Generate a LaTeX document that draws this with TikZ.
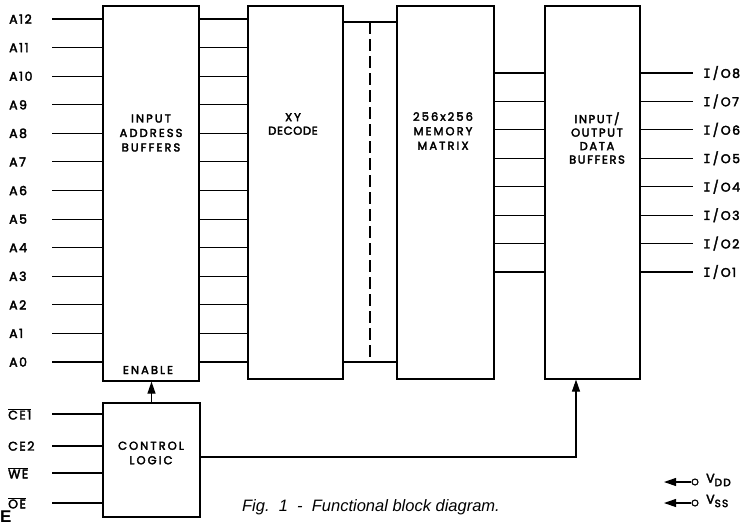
\documentclass[tikz,border=0pt]{standalone}
\usepackage{fontspec}
\setmainfont{Poppins}
\newfontfamily\medfam{Poppins}[FakeBold=3]
\newfontfamily\capfont{Liberation Sans}
\newfontfamily\serifI{DejaVu Sans Mono}[FakeBold=2]
\usetikzlibrary{positioning, arrows.meta, calc}
\newcommand{\pinfont}{\medfam\fontsize{12.5}{14}\selectfont\addfontfeature{LetterSpace=12}}
\newcommand{\boxfont}{\medfam\fontsize{11.5}{14.5}\selectfont\addfontfeature{LetterSpace=18}}
\newcommand{\barsig}[1]{$\overline{\mbox{#1}}$}

\begin{document}
\begin{tikzpicture}[x=1pt, y=-1pt,
    block/.style={draw, line width=1.2pt, inner sep=0pt},
    boxtxt/.style={align=center, font=\boxfont, inner sep=0pt},
    pin/.style={anchor=west, font=\pinfont, inner sep=0pt},
    wire/.style={line width=1.1pt},
    feed/.style={wire, -{Triangle[length=12pt, width=8pt]}}]
    \useasboundingbox (0,0) rectangle (747,523);
    % the five blocks
    \node[block, minimum width=96pt, minimum height=375pt] (iab) at (151,193.5) {};
    \node[block, minimum width=95pt, minimum height=373pt] (xyd) at (295.5,192.5) {};
    \node[block, minimum width=97pt, minimum height=373pt] (mem) at (445.5,192.5) {};
    \node[block, minimum width=95pt, minimum height=373pt] (iob) at (592.5,192.5) {};
    \node[block, minimum width=97pt, minimum height=114pt] (ctl) at (151.5,460) {};
    % block texts
    \node[boxtxt] (iabtxt) at (151,133) {INPUT\\ADDRESS\\BUFFERS};
    \node[boxtxt] (entxt) at (148,370) {ENABLE};
    \node[boxtxt, font=\medfam\fontsize{11.5}{13.5}\selectfont\addfontfeature{LetterSpace=6}] (xydtxt) at (293,124) {X\,Y\\DECODE};
    \node[boxtxt] (memtxt) at (443,131) {256\,x\,256\\MEMORY\\MATRIX};
    \node[boxtxt, font=\medfam\fontsize{11.5}{13.5}\selectfont\addfontfeature{LetterSpace=14}] (iobtxt) at (597,138) {INPUT/\\OUTPUT\\DATA\\BUFFERS};
    \node[boxtxt] (ctltxt) at (151,453) {CONTROL\\LOGIC};
    % address inputs, buffered on to the decoder
    \foreach \i in {0,...,12}{
      \coordinate (ain\i) at (52,{362-28.58*\i});
      \node[pin] (alab\i) at (9,{362-28.58*\i}) {A\i};
      \draw[wire] (ain\i) -- (ain\i -| iab.west);
      \draw[wire] (ain\i -| iab.east) -- (ain\i -| xyd.west);
    }
    % decoder to matrix bus
    \coordinate (bust) at (370,22);
    \coordinate (busb) at (370,362);
    \draw[wire] (bust -| xyd.east) -- (bust -| mem.west);
    \draw[wire] (busb -| xyd.east) -- (busb -| mem.west);
    \draw[wire, dash pattern=on 12pt off 5pt] (bust) -- (busb);
    % data lines
    \foreach \j in {1,...,8}{
      \coordinate (io\j) at (693,{272-28.43*(\j-1)});
      \draw[wire] (io\j -| mem.east) -- (io\j -| iob.west);
      \draw[wire] (io\j -| iob.east) -- (io\j);
      \node[pin] (iolab\j) at (703,{272-28.43*(\j-1)}) {{\serifI I}\,/\,O\j};
    }
    % control inputs
    \foreach \y/\t [count=\k] in {414/\barsig{CE1}, 446/CE2, 473/\barsig{WE}, 503/\barsig{OE}}{
      \coordinate (cin\k) at (52,\y);
      \node[pin] (clab\k) at (8,\y) {\t};
      \draw[wire] (cin\k) -- (cin\k -| ctl.west);
    }
    % control outputs
    \draw[feed] (ctl.north) -- (ctl.north |- iab.south);
    \coordinate (cout) at (576,457);
    \draw[feed] (ctl.east |- cout) -- (cout) -- (cout |- iob.south);
    % supply pins
    \node[circle, draw, line width=1.1pt, inner sep=0pt, minimum size=6pt] (vddc) at (695,482) {};
    \node[circle, draw, line width=1.1pt, inner sep=0pt, minimum size=6pt] (vssc) at (695,503) {};
    \coordinate (vddtip) at (664,482);
    \coordinate (vsstip) at (664,503);
    \draw[feed] (vddc) -- (vddtip);
    \draw[feed] (vssc) -- (vsstip);
    \node[pin] (vddlab) at (706,480) {V\raisebox{-3.5pt}{\fontsize{10.5}{11}\selectfont DD}};
    \node[pin] (vsslab) at (706,501) {V\raisebox{-3.5pt}{\fontsize{10.5}{11}\selectfont SS}};
    % caption
    \node[font=\capfont\itshape\fontsize{16.5}{18}\selectfont] (cap) at (371,507) {Fig.\ \ 1\ \ -\ \ Functional block diagram.};
    \node[font=\capfont\bfseries\fontsize{17}{17}\selectfont, anchor=south west, inner sep=0pt] (efrag) at (0,523) {E};
  \end{tikzpicture}
\end{document}
